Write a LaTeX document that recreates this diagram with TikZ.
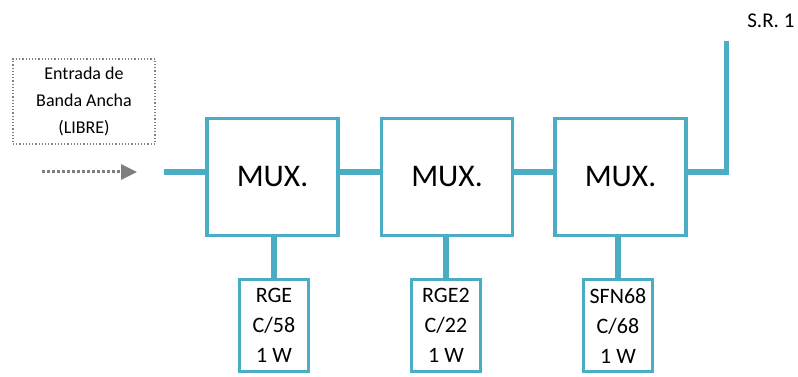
\documentclass[tikz,border=0pt]{standalone}
\usepackage{fontspec}
\setmainfont{Carlito}
\usetikzlibrary{arrows.meta}
\definecolor{teal5}{HTML}{4BACC6}
\definecolor{dotgray}{HTML}{7F7F7F}
\begin{document}
\begin{tikzpicture}[x=1pt,y=-1pt,
  muxbox/.style={draw=teal5,line width=3.5pt,minimum width=131pt,minimum height=117pt,inner sep=0pt,font=\fontsize{31.5}{31.5}\selectfont},
  txbox/.style={draw=teal5,line width=2.2pt,minimum width=69pt,minimum height=92pt,inner sep=0pt,align=center,font=\fontsize{22}{30}\selectfont},
  conn/.style={draw=teal5,line width=6pt},
  inbox/.style={draw=dotgray,dotted,line width=1.2pt,minimum width=142pt,minimum height=85pt,inner sep=0pt,align=center,font=\fontsize{18}{27}\selectfont}]
\useasboundingbox (0,0) rectangle (798,377);
\node[muxbox] (m1) at (272.5,177) {MUX.};
\node[muxbox] (m2) at (447,177) {MUX.};
\node[muxbox] (m3) at (620.5,177) {MUX.};
\node[txbox] (s1) at (274,325.5) {RGE\\C/58\\1 W};
\node[txbox] (s2) at (446,325.5) {RGE2\\C/22\\1 W};
\node[txbox] (s3) at (618,325.5) {SFN68\\C/68\\1 W};
\node[inbox] (in) at (84,101.5) {Entrada de\\Banda Ancha\\(LIBRE)};
\node[font=\fontsize{21}{21}\selectfont,anchor=east] (sr) at (798,21) {S.R. 1};
\coordinate (inl) at (164,172);
\coordinate (corner) at (726,172);
\coordinate (top) at (726,41);
\coordinate (a0) at (42,172);
\coordinate (a1) at (137,172);
\draw[conn] (inl) -- (inl -| m1.west);
\draw[conn] (m1.east |- inl) -- (m2.west |- inl);
\draw[conn] (m2.east |- inl) -- (m3.west |- inl);
\draw[conn] (m3.east |- inl) -- ([xshift=3pt]corner);
\draw[draw=teal5,line width=5pt] (corner) -- (top);
\foreach \i in {1,2,3}{
  \draw[conn] (s\i.north) -- (s\i.north |- m\i.south);
}
\draw[dotgray,dotted,line width=3pt,-{Triangle[length=16pt,width=15pt]}] (a0) -- (a1);
\end{tikzpicture}
\end{document}
